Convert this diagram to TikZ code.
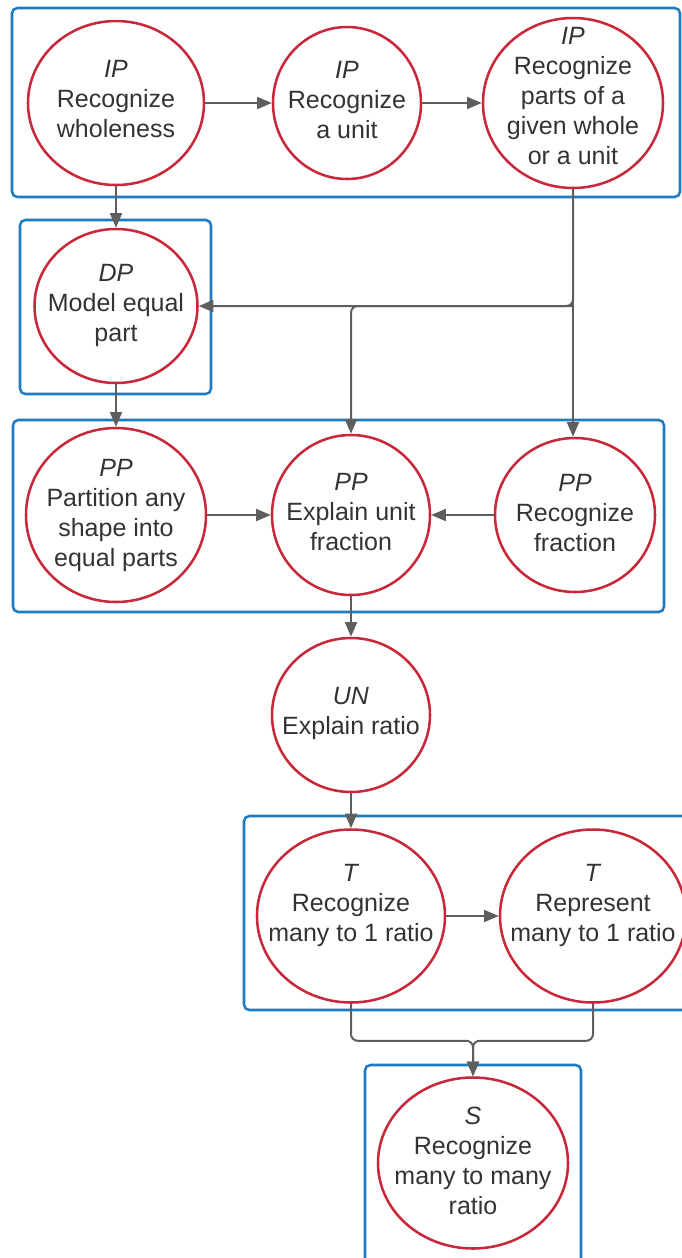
\documentclass[tikz,border=0pt]{standalone}
\usepackage{fontspec}
\setmainfont{Liberation Sans}
\usetikzlibrary{shapes.geometric,arrows.meta}
\definecolor{cred}{HTML}{C8283A}
\definecolor{cblue}{HTML}{1F7BC1}
\definecolor{cgray}{HTML}{5E5E5E}
\definecolor{ctext}{HTML}{333333}
\tikzset{
  ell/.style n args={2}{ellipse, draw=cred, line width=1.9pt, inner sep=0pt,
    minimum width=#1*0.75pt, minimum height=#2*0.75pt},
  txt/.style={align=center, text=ctext, inner sep=0pt, yshift=#1*0.75pt,
    font=\fontsize{18.75}{22.5}\selectfont},
  txt/.default=0,
  grp/.style={draw=cblue, line width=1.9pt, rounded corners=4pt},
  arr/.style={draw=cgray, line width=1.5pt, rounded corners=5pt, -{Triangle[length=11pt,width=9pt]}},
}
\begin{document}
\begin{tikzpicture}[x=0.75pt,y=-0.75pt]
\useasboundingbox (0,0) rectangle (682,1258);
\clip (0,0) rectangle (682,1258);
% group boxes
\draw[grp] (12,8) rectangle (680,197);
\draw[grp] (20,220) rectangle (211,394);
\draw[grp] (13,420) rectangle (664,612);
\draw[grp] (244,816) rectangle (710,1010);
\draw[grp] (365,1065) rectangle (581,1290);
% nodes
\node[ell={176}{164}] (c1) at (116,103) {};
\node[ell={148}{152}] (c2) at (347,103) {};
\node[ell={180}{170}] (c3) at (573,103) {};
\node[ell={163}{154}] (dp) at (116,306) {};
\node[ell={180}{174}] (pp1) at (116,515) {};
\node[ell={158}{160}] (pp2) at (351,515) {};
\node[ell={160}{154}] (pp3) at (575,515) {};
\node[ell={158}{154}] (un) at (351,715) {};
\node[ell={188}{173}] (t1) at (351,916) {};
\node[ell={186}{173}] (t2) at (593,916) {};
\node[ell={190}{171}] (s) at (473,1163) {};
% texts
\node[txt=4] (c1t) at (c1) {\textit{IP}\\Recognize\\wholeness};
\node[txt=3] (c2t) at (c2) {\textit{IP}\\Recognize\\a unit};
\node[txt=7] (c3t) at (c3) {\textit{IP}\\Recognize\\parts of a\\given whole\\or a unit};
\node[txt=1] (dpt) at (dp) {\textit{DP}\\Model equal\\part};
\node[txt=0] (pp1t) at (pp1) {\textit{PP}\\Partition any\\shape into\\equal parts};
\node[txt=3] (pp2t) at (pp2) {\textit{PP}\\Explain unit\\fraction};
\node[txt=2] (pp3t) at (pp3) {\textit{PP}\\Recognize\\fraction};
\node[txt=2] (unt) at (un) {\textit{UN}\\Explain ratio};
\node[txt=11] (t1t) at (t1) {\textit{T}\\Recognize\\many to 1 ratio};
\node[txt=11] (t2t) at (t2) {\textit{T}\\Represent\\many to 1 ratio};
\node[txt=2] (st) at (s) {\textit{S}\\Recognize\\many to many\\ratio};
% connectors
\draw[arr] (c1) -- (c2);
\draw[arr] (c2) -- (c3);
\draw[arr] (c1.south) -- (dp.north);
\draw[arr] (c3.south) |- (dp.east);
\draw[arr] (c3.south |- dp.east) -| (pp2.north);
\draw[arr] (c3.south) -- (c3.south |- pp3.north);
\draw[arr] (dp.south) -- (pp1.north);
\draw[arr] (pp1) -- (pp2);
\draw[arr] (pp3) -- (pp2);
\draw[arr] (pp2.south) -- (un.north);
\draw[arr] (un.south) -- (t1.north);
\draw[arr] (t1) -- (t2);
\draw[arr] (t1.south) -- ++(0,37) -| (s.north);
\draw[arr] (t2.south) -- ++(0,37) -| (s.north);
\end{tikzpicture}
\end{document}
